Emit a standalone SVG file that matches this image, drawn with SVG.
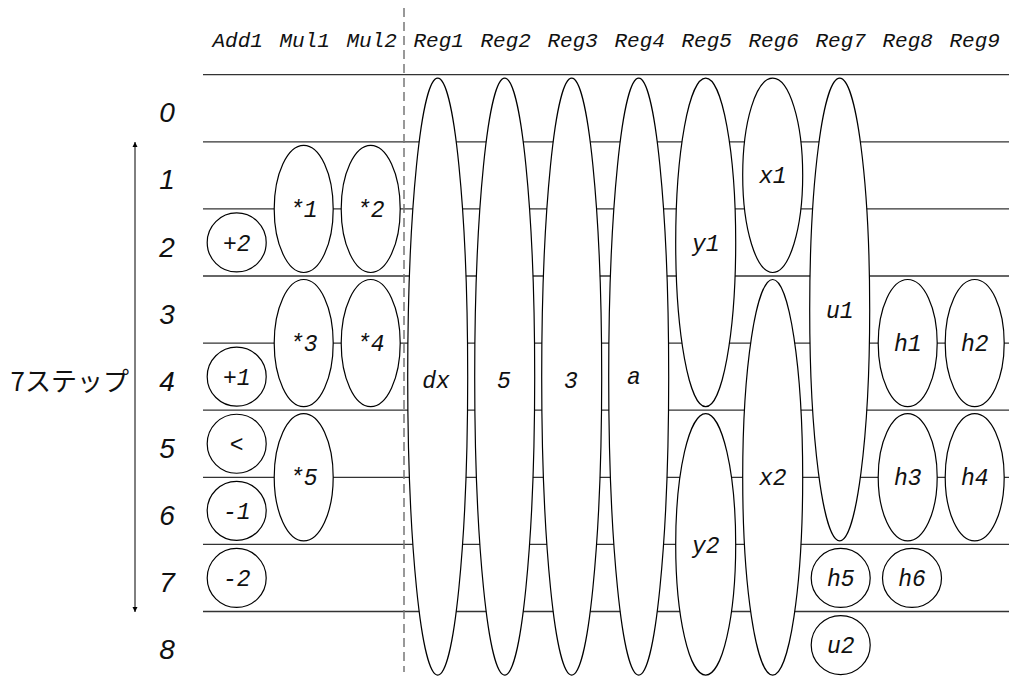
<svg xmlns="http://www.w3.org/2000/svg" width="1010" height="679" viewBox="0 0 1010 679">
<style>
.bg{fill:#fff}
.row{stroke:#333;stroke-width:1.3;fill:none}
.node ellipse{fill:#fff;stroke:#000;stroke-width:1.2}
.node text,.hdr{font-family:"Liberation Mono","DejaVu Sans Mono",monospace;font-style:italic;fill:#111;text-anchor:middle}
.node text{font-size:23px}
.hdr{font-size:21px}
.num{font-family:"Liberation Sans","DejaVu Sans",sans-serif;font-style:italic;font-size:28px;fill:#111;text-anchor:middle}
.jp{font-family:"Noto Sans CJK JP","Noto Sans",sans-serif;font-size:26px;fill:#111;text-anchor:end}
</style>
<defs>
<marker id="ah" viewBox="0 0 10 10" refX="10" refY="5" markerWidth="5" markerHeight="9" markerUnits="userSpaceOnUse" orient="auto-start-reverse">
<path d="M0,0 L10,5 L0,10 z" fill="#000"/>
</marker>
</defs>
<rect class="bg" x="0" y="0" width="1010" height="679"/>
<g id="headers">
<text class="hdr" x="237.7" y="47">Add1</text>
<text class="hdr" x="304.7" y="47">Mul1</text>
<text class="hdr" x="371.7" y="47">Mul2</text>
<text class="hdr" x="438.7" y="47">Reg1</text>
<text class="hdr" x="505.7" y="47">Reg2</text>
<text class="hdr" x="572.7" y="47">Reg3</text>
<text class="hdr" x="639.7" y="47">Reg4</text>
<text class="hdr" x="706.7" y="47">Reg5</text>
<text class="hdr" x="773.7" y="47">Reg6</text>
<text class="hdr" x="840.7" y="47">Reg7</text>
<text class="hdr" x="907.7" y="47">Reg8</text>
<text class="hdr" x="974.7" y="47">Reg9</text>
</g>
<g id="step-labels">
<text class="num" x="167" y="122.3">0</text>
<text class="num" x="167" y="189.4">1</text>
<text class="num" x="167" y="256.5">2</text>
<text class="num" x="167" y="323.6">3</text>
<text class="num" x="167" y="390.7">4</text>
<text class="num" x="167" y="457.8">5</text>
<text class="num" x="167" y="524.9">6</text>
<text class="num" x="167" y="592">7</text>
<text class="num" x="167" y="659.1">8</text>
</g>
<g id="rows">
<line class="row" x1="203" y1="74.7" x2="1009" y2="74.7"/>
<line class="row" x1="203" y1="141.8" x2="1009" y2="141.8"/>
<line class="row" x1="203" y1="208.9" x2="1009" y2="208.9"/>
<line class="row" x1="203" y1="276" x2="1009" y2="276"/>
<line class="row" x1="203" y1="343.1" x2="1009" y2="343.1"/>
<line class="row" x1="203" y1="410.2" x2="1009" y2="410.2"/>
<line class="row" x1="203" y1="477.3" x2="1009" y2="477.3"/>
<line class="row" x1="203" y1="544.4" x2="1009" y2="544.4"/>
<line class="row" x1="203" y1="611.5" x2="1009" y2="611.5"/>
</g>
<g id="connectors">
<line x1="404" y1="8" x2="404" y2="672" stroke="#777" stroke-width="1.5" stroke-dasharray="9,5"/>
<line x1="135" y1="142" x2="135" y2="612" stroke="#000" stroke-width="1" marker-start="url(#ah)" marker-end="url(#ah)"/>
</g>
<text class="jp" x="129" y="391">7ステップ</text>
<g id="n-add2" class="node"><ellipse cx="236.7" cy="242.45" rx="29.5" ry="29.5"/><text x="236.7" y="250.5">+2</text></g>
<g id="n-add1" class="node"><ellipse cx="236.7" cy="376.65" rx="29.5" ry="29.5"/><text x="236.7" y="384.7">+1</text></g>
<g id="n-lt" class="node"><ellipse cx="236.7" cy="443.75" rx="29.5" ry="29.5"/><text x="236.7" y="451.8">&lt;</text></g>
<g id="n-sub1" class="node"><ellipse cx="236.7" cy="510.85" rx="29.5" ry="29.5"/><text x="236.7" y="518.9">-1</text></g>
<g id="n-sub2" class="node"><ellipse cx="236.7" cy="577.95" rx="29.5" ry="29.5"/><text x="236.7" y="586">-2</text></g>
<g id="n-mul1" class="node"><ellipse cx="303.7" cy="208.9" rx="29.5" ry="63.6"/><text x="303.7" y="217">*1</text></g>
<g id="n-mul3" class="node"><ellipse cx="303.7" cy="343.1" rx="29.5" ry="63.6"/><text x="303.7" y="351.2">*3</text></g>
<g id="n-mul5" class="node"><ellipse cx="303.7" cy="477.3" rx="29.5" ry="63.6"/><text x="303.7" y="485.4">*5</text></g>
<g id="n-mul2" class="node"><ellipse cx="370.7" cy="208.9" rx="29.5" ry="63.6"/><text x="370.7" y="217">*2</text></g>
<g id="n-mul4" class="node"><ellipse cx="370.7" cy="343.1" rx="29.5" ry="63.6"/><text x="370.7" y="351.2">*4</text></g>
<g id="n-dx" class="node"><ellipse cx="437.7" cy="376.65" rx="30" ry="298.45"/><text x="436" y="388">dx</text></g>
<g id="n-5" class="node"><ellipse cx="504.7" cy="376.65" rx="30" ry="298.45"/><text x="504" y="388">5</text></g>
<g id="n-3" class="node"><ellipse cx="571.7" cy="376.65" rx="30" ry="298.45"/><text x="571" y="388">3</text></g>
<g id="n-a" class="node"><ellipse cx="638.7" cy="376.65" rx="30" ry="298.45"/><text x="634" y="384">a</text></g>
<g id="n-y1" class="node"><ellipse cx="705.7" cy="242.45" rx="30" ry="164.25"/><text x="705.7" y="250.5">y1</text></g>
<g id="n-y2" class="node"><ellipse cx="705.7" cy="544.4" rx="30" ry="130.7"/><text x="705.7" y="553">y2</text></g>
<g id="n-x1" class="node"><ellipse cx="772.7" cy="175.35" rx="30" ry="97.15"/><text x="772.7" y="183.4">x1</text></g>
<g id="n-x2" class="node"><ellipse cx="772.7" cy="477.3" rx="30" ry="197.8"/><text x="772.7" y="485.4">x2</text></g>
<g id="n-u1" class="node"><ellipse cx="839.7" cy="309.55" rx="30" ry="231.35"/><text x="839.7" y="317.6">u1</text></g>
<g id="n-h5" class="node"><ellipse cx="840.7" cy="577.95" rx="29.5" ry="29.5"/><text x="840.7" y="586">h5</text></g>
<g id="n-u2" class="node"><ellipse cx="840.7" cy="645.05" rx="29.5" ry="29.5"/><text x="840.7" y="653.1">u2</text></g>
<g id="n-h1" class="node"><ellipse cx="907.7" cy="343.1" rx="29.5" ry="63.6"/><text x="907.7" y="351.2">h1</text></g>
<g id="n-h3" class="node"><ellipse cx="907.7" cy="477.3" rx="29.5" ry="63.6"/><text x="907.7" y="485.4">h3</text></g>
<g id="n-h6" class="node"><ellipse cx="912" cy="577.95" rx="29.5" ry="29.5"/><text x="912" y="586">h6</text></g>
<g id="n-h2" class="node"><ellipse cx="974.7" cy="343.1" rx="29.5" ry="63.6"/><text x="974.7" y="351.2">h2</text></g>
<g id="n-h4" class="node"><ellipse cx="974.7" cy="477.3" rx="29.5" ry="63.6"/><text x="974.7" y="485.4">h4</text></g>
</svg>
